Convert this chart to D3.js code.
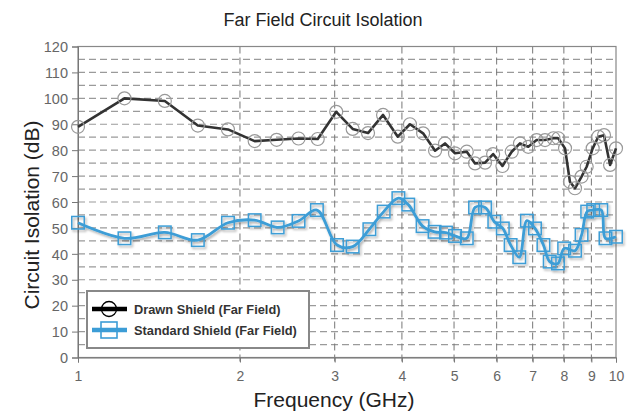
<!DOCTYPE html>
<html>
<head>
<meta charset="utf-8">
<script src="https://cdn.jsdelivr.net/npm/d3@7"></script>
<style>
  body { margin: 0; background: #fff; }
  svg { font-family: "Liberation Sans", Arial, sans-serif; }
</style>
</head>
<body>
<svg id="chart"></svg>
<script>
'use strict'

// Drawn shield (black line, circles)
const drawnFreq = [1.0, 1.22, 1.45, 1.67, 1.90, 2.13, 2.34, 2.57, 2.79, 3.02, 3.24, 3.46, 3.69, 3.93, 4.14, 4.38, 4.61, 4.81, 5.02, 5.28, 5.47, 5.71, 5.91, 6.15, 6.40, 6.63, 6.87, 7.12, 7.38, 7.65, 7.81, 8.04, 8.21, 8.39, 8.63, 8.82, 9.05, 9.27, 9.50, 9.75, 10.0]
const drawnIso = [89, 100, 99, 89.5, 88, 83.5, 84, 84.5, 84.3, 94.8, 88.2, 86.6, 93.6, 85.2, 90, 86.5, 79.8, 82.6, 78.8, 79.4, 74.9, 75.2, 78.5, 73.9, 79.4, 82.6, 81.3, 83.9, 83.9, 84.6, 84.6, 80.7, 67.8, 65.3, 69.8, 73.6, 80.7, 85.2, 85.8, 74.3, 80.7]

// Standard shield (blue line, squares)
const stdFreq = [1.0, 1.22, 1.45, 1.67, 1.90, 2.13, 2.35, 2.57, 2.78, 3.03, 3.24, 3.48, 3.70, 3.94, 4.11, 4.37, 4.60, 4.83, 5.02, 5.28, 5.47, 5.71, 5.94, 6.16, 6.37, 6.61, 6.83, 7.07, 7.33, 7.53, 7.80, 8.01, 8.39, 8.63, 8.84, 9.07, 9.39, 9.56, 10.0]
const stdIso = [52, 46, 48.3, 45.3, 52, 53, 50.2, 52.7, 56.9, 43.4, 42.8, 49.5, 56.3, 61.5, 59, 50.7, 48.5, 48.2, 46.9, 46, 57.9, 57.9, 52.4, 49.8, 43.4, 38.7, 52.8, 49.8, 43.4, 37, 36.3, 42.1, 41.2, 47.3, 56.3, 56.9, 56.9, 46, 46.6]

const xTicks = [1, 2, 3, 4, 5, 6, 7, 8, 9, 10]
const yTicks = [0, 10, 20, 30, 40, 50, 60, 70, 80, 90, 100, 110, 120]
const yMinor = [5, 15, 25, 35, 45, 55, 65, 75, 85, 95, 105, 115]
const seriesNames = ['Drawn Shield (Far Field)', 'Standard Shield (Far Field)']

const width = 630, height = 412
const margins = { top: 46.5, right: 14, bottom: 54.5, left: 78 }
const chartW = width - margins.left - margins.right
const chartH = height - margins.top - margins.bottom

const blue = '#3c9dd6'
const dark = '#333'

const x = d3.scaleLog().domain([1, 10]).range([0, chartW])
const y = d3.scaleLinear().domain([0, 120]).range([chartH, 0])

const svg = d3.select('#chart').attr('width', width).attr('height', height)

const defs = svg.append('defs')
const shadow = defs.append('filter').attr('id', 'shadow')
    .attr('x', '-10%').attr('y', '-10%').attr('width', '120%').attr('height', '130%')
shadow.append('feDropShadow')
    .attr('dx', 1.5).attr('dy', 2).attr('stdDeviation', 1.2)
    .attr('flood-color', '#000').attr('flood-opacity', 0.3)

const g = svg.append('g').attr('transform', `translate(${margins.left},${margins.top})`)

// grid
g.append('g').selectAll('line').data(yTicks.slice(1).concat(yMinor)).enter().append('line')
    .attr('x1', 0).attr('x2', chartW)
    .attr('y1', d => y(d)).attr('y2', d => y(d))
    .attr('stroke', '#9a9a9a').attr('stroke-width', 1.2).attr('stroke-dasharray', '7,4')

g.append('g').selectAll('line').data(xTicks.slice(1, -1)).enter().append('line')
    .attr('x1', d => x(d)).attr('x2', d => x(d))
    .attr('y1', 0).attr('y2', chartH + 5)
    .attr('stroke', '#777').attr('stroke-width', 1).attr('stroke-dasharray', '7,4')

// frame
g.append('rect').attr('width', chartW).attr('height', chartH)
    .attr('fill', 'none').attr('stroke', '#888').attr('stroke-width', 1.2)

// axes
const yAxis = g.append('g')
    .call(d3.axisLeft(y).tickValues(yTicks).tickSize(6).tickPadding(4))
yAxis.select('.domain').attr('stroke', '#777')
yAxis.selectAll('.tick line').attr('stroke', '#777')
yAxis.selectAll('.tick text').attr('dy', '0.36em')
    .attr('font-size', 14.5).attr('fill', '#666')

const xAxis = g.append('g').attr('transform', `translate(0,${chartH})`)
    .call(d3.axisBottom(x).tickValues(xTicks).tickFormat(d3.format('d')).tickSize(5).tickPadding(9))
xAxis.select('.domain').attr('stroke', '#777')
xAxis.selectAll('.tick line').attr('stroke', '#777')
xAxis.selectAll('.tick text').attr('font-size', 14).attr('fill', '#666')

// drawn shield
const line = d3.line().x(d => x(d[0])).y(d => y(d[1]))
const drawn = d3.zip(drawnFreq, drawnIso)
const std = d3.zip(stdFreq, stdIso)

g.append('path').datum(drawn)
    .attr('d', line)
    .attr('fill', 'none').attr('stroke', dark).attr('stroke-width', 2.6)
    .attr('stroke-linejoin', 'round')

g.append('g').selectAll('circle').data(drawn).enter().append('circle')
    .attr('cx', d => x(d[0])).attr('cy', d => y(d[1])).attr('r', 6.5)
    .attr('fill', 'none').attr('stroke', '#999').attr('stroke-width', 1.2)

// standard shield
const stdGroup = g.append('g').attr('filter', 'url(#shadow)')
stdGroup.append('path').datum(std)
    .attr('d', line.curve(d3.curveCatmullRom.alpha(0.5)))
    .attr('fill', 'none').attr('stroke', blue).attr('stroke-width', 2.8)
    .attr('stroke-linejoin', 'round')

const sq = 12.5
stdGroup.selectAll('rect').data(std).enter().append('rect')
    .attr('x', d => x(d[0]) - sq / 2).attr('y', d => y(d[1]) - sq / 2)
    .attr('width', sq).attr('height', sq)
    .attr('fill', 'none').attr('stroke', blue).attr('stroke-width', 1.5)

// legend
const legend = svg.append('g').attr('transform', 'translate(87,291)')
legend.append('rect').attr('width', 222).attr('height', 57)
    .attr('fill', '#fff').attr('stroke', '#888').attr('stroke-width', 2)

const entries = legend.selectAll('.entry').data(seriesNames).enter().append('g')
    .attr('transform', (d, i) => `translate(0,${18 + i * 21})`)
entries.append('line').attr('x1', 5).attr('x2', 40)
    .attr('stroke', (d, i) => i ? blue : '#000').attr('stroke-width', 4.5)
entries.filter((d, i) => i === 0).append('circle')
    .attr('cx', 22).attr('r', 7.5).attr('fill', 'none').attr('stroke', '#000').attr('stroke-width', 1.3)
entries.filter((d, i) => i === 1).append('rect')
    .attr('x', 14).attr('y', -8).attr('width', 16).attr('height', 16)
    .attr('fill', 'none').attr('stroke', blue).attr('stroke-width', 1.6)
entries.append('text').attr('x', 47).attr('dy', '0.36em')
    .attr('font-size', 12.8).attr('font-weight', 'bold').attr('fill', '#333')
    .text(d => d)

// titles
svg.append('text').attr('x', 323).attr('y', 26).attr('text-anchor', 'middle')
    .attr('font-size', 18).attr('fill', '#222').text('Far Field Circuit Isolation')

svg.append('text').attr('x', 334).attr('y', 407).attr('text-anchor', 'middle')
    .attr('font-size', 21).attr('fill', '#222').text('Frequency (GHz)')

svg.append('text').attr('transform', 'translate(39,215) rotate(-90)').attr('text-anchor', 'middle')
    .attr('font-size', 21).attr('fill', '#222').text('Circuit Isolation (dB)')
</script>
</body>
</html>
